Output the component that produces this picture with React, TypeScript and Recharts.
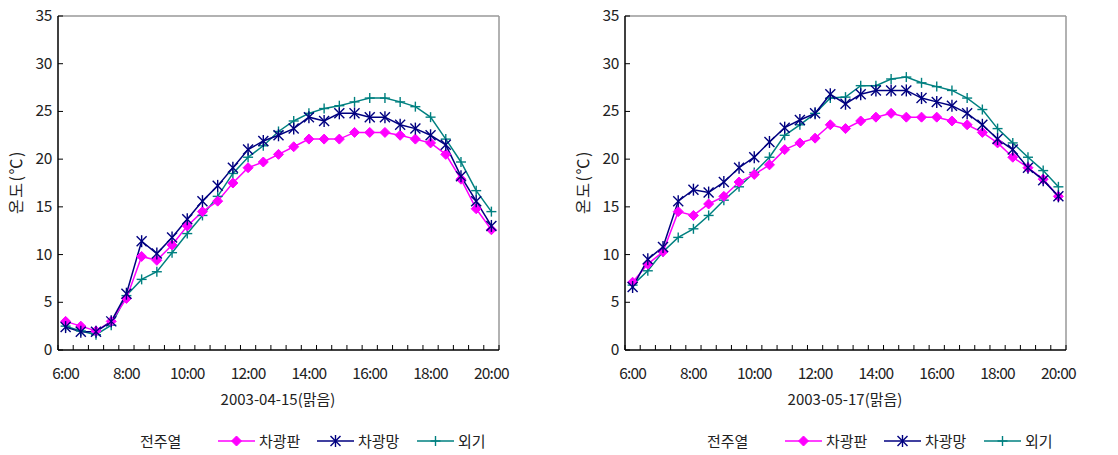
import React from 'react';
import { LineChart, Line, XAxis, YAxis, ReferenceLine } from 'recharts';

const timeLabels = [
  '6:00', '6:30', '7:00', '7:30', '8:00', '8:30', '9:00', '9:30', '10:00', '10:30',
  '11:00', '11:30', '12:00', '12:30', '13:00', '13:30', '14:00', '14:30', '15:00', '15:30',
  '16:00', '16:30', '17:00', '17:30', '18:00', '18:30', '19:00', '19:30', '20:00',
];

// 2003-04-15
const panelA = [3.0, 2.5, 2.0, 3.0, 5.4, 9.8, 9.4, 11.0, 13.0, 14.5, 15.6, 17.5, 19.1, 19.7, 20.5, 21.3, 22.1, 22.1, 22.1, 22.8, 22.8, 22.8, 22.5, 22.1, 21.7, 20.5, 17.9, 14.8, 12.6];
const netA = [2.4, 1.9, 1.9, 3.0, 5.9, 11.4, 10.1, 11.8, 13.7, 15.6, 17.2, 19.1, 21.0, 21.9, 22.5, 23.2, 24.4, 24.0, 24.8, 24.8, 24.4, 24.4, 23.6, 23.2, 22.5, 21.5, 18.2, 15.6, 13.0];
const outA = [2.5, 2.0, 1.6, 2.6, 5.7, 7.4, 8.2, 10.2, 12.2, 14.1, 16.1, 18.5, 20.2, 21.4, 22.9, 24.0, 24.8, 25.3, 25.6, 26.0, 26.4, 26.4, 26.0, 25.5, 24.4, 22.1, 19.7, 16.7, 14.5];

// 2003-05-17
const panelB = [7.1, 9.0, 10.3, 14.5, 14.1, 15.3, 16.1, 17.6, 18.4, 19.4, 21.0, 21.7, 22.2, 23.6, 23.2, 24.0, 24.4, 24.8, 24.4, 24.4, 24.4, 24.0, 23.6, 22.8, 21.7, 20.2, 19.1, 17.9, 16.1];
const netB = [6.6, 9.5, 10.8, 15.6, 16.8, 16.5, 17.6, 19.1, 20.2, 21.8, 23.3, 24.1, 24.8, 26.8, 25.8, 26.8, 27.2, 27.2, 27.2, 26.4, 26.0, 25.6, 24.8, 23.6, 22.1, 21.0, 19.1, 17.8, 16.1];
const outB = [6.8, 8.3, 10.3, 11.8, 12.7, 14.1, 15.7, 17.1, 18.6, 20.2, 22.5, 23.6, 24.8, 26.4, 26.5, 27.7, 27.7, 28.4, 28.6, 28.0, 27.6, 27.2, 26.4, 25.2, 23.2, 21.7, 20.2, 18.8, 17.1];

const seriesNames = ['차광판', '차광망', '외기'];
const legendTitle = '전주열';
const yTicks = [0, 5, 10, 15, 20, 25, 30, 35];

const PINK = '#FF00FF';
const NAVY = '#000080';
const TEAL = '#008080';
const FONT = '"Noto Sans CJK KR", "Noto Sans", sans-serif';
const TXT = '#222';

const boundaryTicks = Array.from({ length: timeLabels.length + 1 }, (_, i) => i - 0.5);
const labelTicks = timeLabels.map((_, i) => i).filter((i) => i % 4 === 0);
const xTicks = [...boundaryTicks, ...labelTicks].sort((a, b) => a - b);

const XTick = (props: any) => {
  const { x, y, payload } = props;
  const v = payload.value;
  if (Math.abs(v - Math.round(v)) > 0.01) {
    return <line x1={x} x2={x} y1={y} y2={y - 5} stroke="#000" strokeWidth={1} />;
  }
  return (
    <text x={x} y={y + 29} textAnchor="middle" fontSize={15.5} fill={TXT} fontFamily={FONT} letterSpacing={-0.8}>
      {timeLabels[v]}
    </text>
  );
};

const YTick = (props: any) => {
  const { x, y, payload } = props;
  return (
    <g>
      <line x1={x} x2={x + 5} y1={y} y2={y} stroke="#000" strokeWidth={1} />
      <text x={x - 6} y={y + 5} textAnchor="end" fontSize={15.5} fill={TXT} fontFamily={FONT} letterSpacing={-0.4}>
        {payload.value}
      </text>
    </g>
  );
};

const diamondShape = (cx: number, cy: number, key?: any) => (
  <polygon key={key} points={`${cx},${cy - 5} ${cx + 5},${cy} ${cx},${cy + 5} ${cx - 5},${cy}`} fill={PINK} stroke={PINK} strokeWidth={1} />
);
const starShape = (cx: number, cy: number, key?: any) => (
  <g key={key} stroke={NAVY} strokeWidth={1.4}>
    <line x1={cx - 5} y1={cy - 5} x2={cx + 5} y2={cy + 5} />
    <line x1={cx - 5} y1={cy + 5} x2={cx + 5} y2={cy - 5} />
    <line x1={cx} y1={cy - 6} x2={cx} y2={cy + 6} />
  </g>
);
const plusShape = (cx: number, cy: number, key?: any) => (
  <g key={key} stroke={TEAL} strokeWidth={1.4}>
    <line x1={cx - 5} y1={cy} x2={cx + 5} y2={cy} />
    <line x1={cx} y1={cy - 5} x2={cx} y2={cy + 5} />
  </g>
);

const DiamondDot = (p: any) => diamondShape(p.cx, p.cy, p.key ?? p.index);
const StarDot = (p: any) => starShape(p.cx, p.cy, p.key ?? p.index);
const PlusDot = (p: any) => plusShape(p.cx, p.cy, p.key ?? p.index);

const LegendItem = ({ left, color, shape, label }: any) => (
  <div style={{ position: 'absolute', left, top: 430, height: 22, display: 'flex', alignItems: 'center' }}>
    <svg width={38} height={22} style={{ display: 'block' }}>
      <line x1={0} x2={37} y1={11} y2={11} stroke={color} strokeWidth={1.5} />
      {shape(18.5, 11)}
    </svg>
    <span style={{ fontFamily: FONT, fontSize: 15, color: TXT, marginLeft: 3, lineHeight: '22px', whiteSpace: 'nowrap' }}>{label}</span>
  </div>
);

const Panel = ({ left, a, b, c, title }: any) => {
  const data = timeLabels.map((t, i) => ({ x: i, a: a[i], b: b[i], c: c[i] }));
  return (
    <div style={{ position: 'absolute', left, top: 0, width: 551, height: 455 }}>
      <LineChart width={551} height={455} data={data} margin={{ top: 16, right: 52, bottom: 75, left: 8 }}>
        <XAxis
          dataKey="x"
          type="number"
          domain={[-0.5, 28.5]}
          ticks={xTicks}
          interval={0}
          tickSize={0}
          tickMargin={0}
          tickLine={false}
          height={30}
          tick={<XTick />}
          axisLine={{ stroke: '#000', strokeWidth: 1.5 }}
          allowDecimals
        />
        <YAxis
          type="number"
          domain={[0, 35]}
          ticks={yTicks}
          interval={0}
          tickSize={0}
          tickMargin={0}
          tickLine={false}
          width={50}
          tick={<YTick />}
          axisLine={{ stroke: '#000', strokeWidth: 1.5 }}
        />
        <ReferenceLine y={35} stroke="#999" strokeWidth={1.5} />
        <ReferenceLine x={28.5} stroke="#999" strokeWidth={1.5} />
        <Line dataKey="c" stroke={TEAL} strokeWidth={1.5} dot={PlusDot} isAnimationActive={false} />
        <Line dataKey="a" stroke={PINK} strokeWidth={1.5} dot={DiamondDot} isAnimationActive={false} />
        <Line dataKey="b" stroke={NAVY} strokeWidth={1.5} dot={StarDot} isAnimationActive={false} />
      </LineChart>
      <div
        style={{
          position: 'absolute', left: 15, top: 182, transform: 'translate(-50%, -50%) rotate(-90deg)',
          fontFamily: FONT, fontSize: 16, color: TXT, whiteSpace: 'nowrap', letterSpacing: 1.5,
        }}
      >
        온도(℃)
      </div>
      <div
        style={{
          position: 'absolute', left: 278, top: 398, transform: 'translate(-50%, -50%)',
          fontFamily: FONT, fontSize: 15, color: TXT, whiteSpace: 'nowrap', letterSpacing: 0,
        }}
      >
        {title}
      </div>
      <div style={{ position: 'absolute', left: 140, top: 430, height: 22, lineHeight: '22px', fontFamily: FONT, fontSize: 15, color: TXT }}>
        {legendTitle}
      </div>
      <LegendItem left={218} color={PINK} shape={diamondShape} label={seriesNames[0]} />
      <LegendItem left={317} color={NAVY} shape={starShape} label={seriesNames[1]} />
      <LegendItem left={417} color={TEAL} shape={plusShape} label={seriesNames[2]} />
    </div>
  );
};

export default function App() {
  return (
    <div style={{ position: 'absolute', left: 0, top: 0, width: 1118, height: 455, background: '#fff', overflow: 'hidden' }}>
      <Panel left={0} a={panelA} b={netA} c={outA} title="2003-04-15(맑음)" />
      <Panel left={567} a={panelB} b={netB} c={outB} title="2003-05-17(맑음)" />
    </div>
  );
}
